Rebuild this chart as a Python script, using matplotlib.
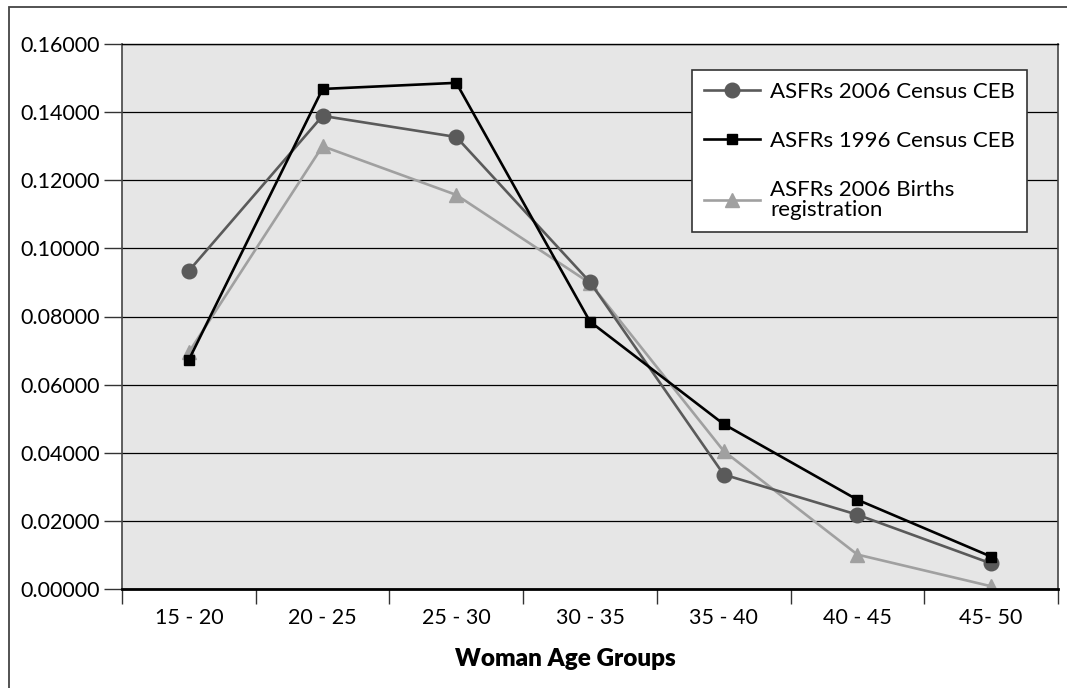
import matplotlib
matplotlib.use("Agg")
import matplotlib.pyplot as plt
from matplotlib.patches import Rectangle

age_groups = ["15 - 20", "20 - 25", "25 - 30", "30 - 35", "35 - 40", "40 - 45", "45- 50"]
census_2006 = [0.0934, 0.1389, 0.1327, 0.0901, 0.0336, 0.0218, 0.0075]
census_1996 = [0.0673, 0.1468, 0.1486, 0.0785, 0.0484, 0.0262, 0.0095]
births_2006 = [0.0695, 0.1300, 0.1157, 0.0898, 0.0405, 0.0101, 0.0008]
y_ticks = [0.0, 0.02, 0.04, 0.06, 0.08, 0.10, 0.12, 0.14, 0.16]

plt.rcParams['font.family'] = ['Lato', 'DejaVu Sans']

W, H = 1067, 688
fig = plt.figure(figsize=(W / 100, H / 100), dpi=100)
ax = fig.add_axes([122 / W, 1 - 589 / H, (1058 - 122) / W, (589 - 44) / H])
ax.set_facecolor('#e6e6e6')

x = list(range(len(age_groups)))
ax.plot(x, census_2006, '-o', color='#5a5a5a', lw=1.9, ms=10.5,
        label='ASFRs 2006 Census CEB', zorder=3)
ax.plot(x, census_1996, '-s', color='black', lw=1.9, ms=7.5,
        label='ASFRs 1996 Census CEB', zorder=4)
ax.plot(x, births_2006, '-^', color='#a0a0a0', lw=1.9, ms=10.5,
        label='ASFRs 2006 Births\nregistration', zorder=2)

ax.set_xlim(-0.5, len(age_groups) - 0.5)
ax.set_ylim(0, 0.16)
ax.set_yticks(y_ticks)
ax.set_yticklabels(["%.5f" % v for v in y_ticks])
ax.yaxis.grid(True, color='black', lw=0.9)
ax.set_axisbelow(True)

ax.set_xticks(x)
ax.set_xticklabels(age_groups)
ax.set_xticks([i - 0.5 for i in range(len(age_groups) + 1)], minor=True)
ax.tick_params(axis='x', which='major', length=0, pad=14, labelsize=15.5)
ax.tick_params(axis='x', which='minor', length=11, width=1, color='#333333', direction='out')
ax.tick_params(axis='y', length=13, width=1, color='#333333', pad=3, labelsize=15.5)

for side in ['left', 'right']:
    ax.spines[side].set_color('#444444')
    ax.spines[side].set_linewidth(1.2)
ax.spines['top'].set_color('black')
ax.spines['top'].set_linewidth(1.0)
ax.spines['bottom'].set_color('black')
ax.spines['bottom'].set_linewidth(2.0)

ax.set_xlabel('Woman Age Groups', fontweight='heavy', fontsize=17.5)
ax.xaxis.set_label_coords((565 - 122) / (1058 - 122), -(659 - 589) / (589 - 44))
ax.xaxis.label.set_va('center')

leg = ax.legend(loc='upper right', bbox_to_anchor=((1027 - 122) / (1058 - 122), (589 - 70) / (589 - 44)),
                fontsize=16, frameon=True, fancybox=False, framealpha=1,
                edgecolor='#333333', borderpad=0.55, handlelength=2.5,
                handletextpad=0.45, labelspacing=1.3, borderaxespad=0)
leg.get_frame().set_linewidth(1.2)
for t in leg.get_texts():
    t.set_linespacing(1.0)

fig.patches.append(Rectangle((9 / W, -0.05), 1.1, 1 - 7 / H + 0.05, transform=fig.transFigure,
                             fill=False, edgecolor='#444444', lw=1.3))

fig.savefig('out.png', dpi=100)
